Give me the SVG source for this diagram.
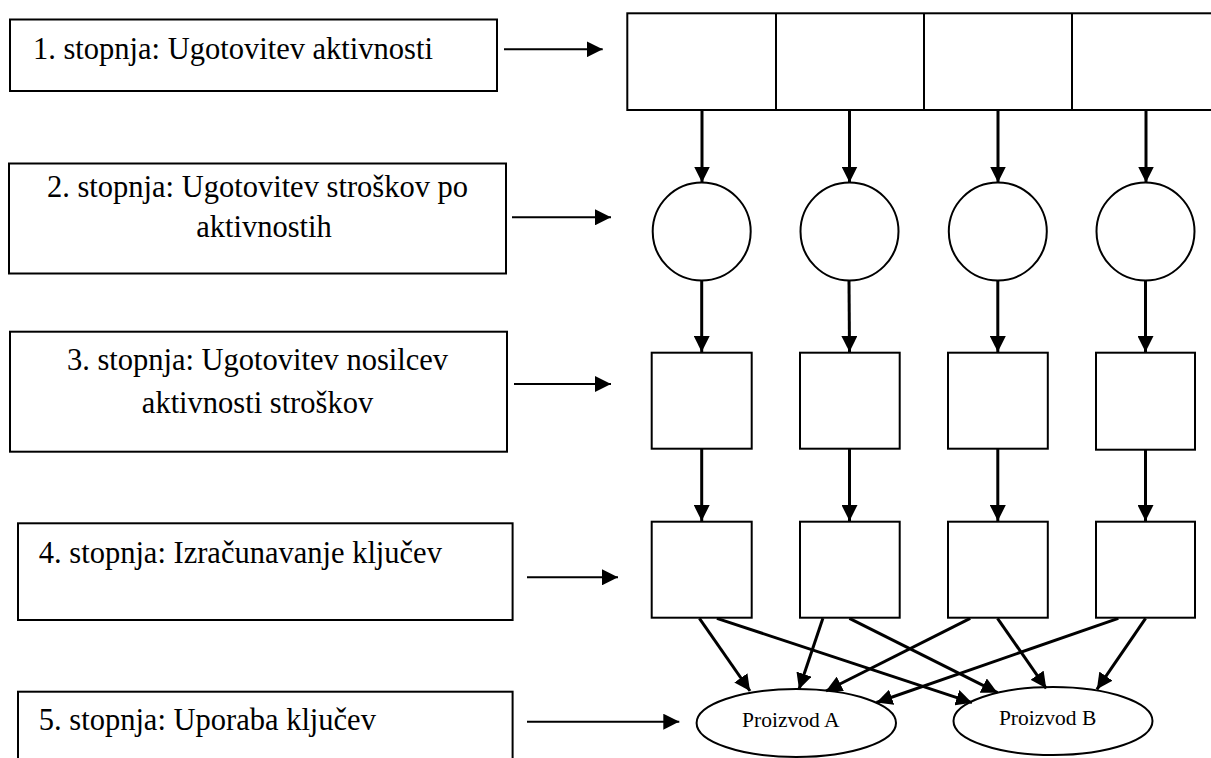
<svg xmlns="http://www.w3.org/2000/svg" width="1211" height="758" viewBox="0 0 1211 758">
  <style>
    .stage { fill: #fff; stroke: #000; stroke-width: 2; }
    .cell { fill: #fff; stroke: #000; stroke-width: 2; }
    .label { font-family: "Liberation Serif", "Times New Roman", serif; font-size: 30.5px; fill: #000; }
    .prod { font-family: "Liberation Serif", "Times New Roman", serif; font-size: 21.5px; fill: #000; }
    .flow { stroke: #000; stroke-width: 3; fill: none; marker-end: url(#head); }
    .step { stroke: #000; stroke-width: 2; fill: none; marker-end: url(#head); }
  </style>
  <defs>
    <marker id="head" viewBox="0 0 16 16" refX="16" refY="8" markerWidth="16" markerHeight="16" markerUnits="userSpaceOnUse" orient="auto">
      <path d="M0,0 L16,8 L0,16 z" fill="#000"/>
    </marker>
  </defs>
  <rect width="1211" height="758" fill="#fff"/>

  <!-- stage descriptions on the left -->
  <g id="stage1">
    <rect class="stage" x="10" y="19.5" width="487" height="71.5"/>
    <text class="label" x="33" y="59">1. stopnja: Ugotovitev aktivnosti</text>
  </g>
  <g id="stage2">
    <rect class="stage" x="9" y="163.5" width="497" height="110"/>
    <text class="label" x="257.5" y="196.7" text-anchor="middle">2. stopnja: Ugotovitev stroškov po</text>
    <text class="label" x="264" y="237" text-anchor="middle">aktivnostih</text>
  </g>
  <g id="stage3">
    <rect class="stage" x="10" y="331.7" width="497" height="120"/>
    <text class="label" x="257.5" y="370" text-anchor="middle">3. stopnja: Ugotovitev nosilcev</text>
    <text class="label" x="257.5" y="412.7" text-anchor="middle">aktivnosti stroškov</text>
  </g>
  <g id="stage4">
    <rect class="stage" x="18" y="523.3" width="494.6" height="96.7"/>
    <text class="label" x="38.8" y="563.3">4. stopnja: Izračunavanje ključev</text>
  </g>
  <g id="stage5">
    <rect class="stage" x="18" y="691.7" width="494.6" height="80"/>
    <text class="label" x="38.8" y="730">5. stopnja: Uporaba ključev</text>
  </g>

  <!-- level 1: activity strip -->
  <g id="activities">
    <rect class="cell" x="627.3" y="13.3" width="600" height="96.7"/>
    <line x1="776" y1="13.3" x2="776" y2="110" stroke="#000" stroke-width="2"/>
    <line x1="924" y1="13.3" x2="924" y2="110" stroke="#000" stroke-width="2"/>
    <line x1="1072" y1="13.3" x2="1072" y2="110" stroke="#000" stroke-width="2"/>
  </g>

  <!-- level 2: cost pools -->
  <g id="pools">
    <circle class="cell" cx="701.7" cy="231.5" r="49"/>
    <circle class="cell" cx="849.5" cy="231.5" r="49"/>
    <circle class="cell" cx="997.8" cy="231.5" r="49"/>
    <circle class="cell" cx="1145.5" cy="231.5" r="49"/>
  </g>

  <!-- level 3: cost drivers -->
  <g id="drivers">
    <rect class="cell" x="651.7" y="352.7" width="100" height="96"/>
    <rect class="cell" x="800" y="352.7" width="99.7" height="96"/>
    <rect class="cell" x="948" y="352.7" width="99.8" height="96"/>
    <rect class="cell" x="1096" y="352.7" width="99" height="97"/>
  </g>

  <!-- level 4: rates -->
  <g id="rates">
    <rect class="cell" x="651.7" y="521.7" width="100" height="96"/>
    <rect class="cell" x="800" y="521.7" width="99.7" height="96"/>
    <rect class="cell" x="948" y="521.7" width="99.8" height="96"/>
    <rect class="cell" x="1096" y="521.7" width="99" height="96"/>
  </g>

  <!-- level 5: products -->
  <g id="productA">
    <ellipse class="cell" cx="796.3" cy="723" rx="99.7" ry="34"/>
    <text class="prod" x="790.8" y="726.7" text-anchor="middle">Proizvod A</text>
  </g>
  <g id="productB">
    <ellipse class="cell" cx="1053" cy="721" rx="99.5" ry="34"/>
    <text class="prod" x="1047.6" y="724.5" text-anchor="middle">Proizvod B</text>
  </g>

  <g id="connectors">
    <!-- stage pointers -->
    <line class="step" x1="504" y1="49.3" x2="602.7" y2="49.3"/>
    <line class="step" x1="512" y1="217.3" x2="611" y2="217.3"/>
    <line class="step" x1="514" y1="384" x2="611" y2="384"/>
    <line class="step" x1="527" y1="577.3" x2="618" y2="577.3"/>
    <line class="step" x1="527" y1="721.7" x2="679.3" y2="721.7"/>

    <!-- activities to pools -->
    <line class="flow" x1="702" y1="110" x2="702" y2="182.5"/>
    <line class="flow" x1="849.5" y1="110" x2="849.5" y2="182.5"/>
    <line class="flow" x1="998" y1="110" x2="998" y2="182.5"/>
    <line class="flow" x1="1146" y1="110" x2="1146" y2="182.5"/>

    <!-- pools to drivers -->
    <line class="flow" x1="701.7" y1="280.5" x2="701.7" y2="352"/>
    <line class="flow" x1="849" y1="280.5" x2="849.5" y2="352"/>
    <line class="flow" x1="997.8" y1="280.5" x2="997.8" y2="352"/>
    <line class="flow" x1="1145.5" y1="280.5" x2="1145.5" y2="352"/>

    <!-- drivers to rates -->
    <line class="flow" x1="701.7" y1="449" x2="701.7" y2="521"/>
    <line class="flow" x1="849.5" y1="449" x2="849.5" y2="521"/>
    <line class="flow" x1="997.8" y1="449" x2="997.8" y2="521"/>
    <line class="flow" x1="1145.5" y1="450" x2="1145.5" y2="521"/>

    <!-- rates to products -->
    <line class="flow" x1="699.4" y1="618.3" x2="750" y2="691"/>
    <line class="flow" x1="716.9" y1="618.3" x2="972" y2="702.7"/>
    <line class="flow" x1="822.9" y1="618.3" x2="799" y2="689.3"/>
    <line class="flow" x1="849.4" y1="618.3" x2="997.5" y2="692.7"/>
    <line class="flow" x1="970.2" y1="618.3" x2="826" y2="691"/>
    <line class="flow" x1="997.5" y1="618.3" x2="1046.2" y2="688.3"/>
    <line class="flow" x1="1118.3" y1="618.3" x2="876.5" y2="702.5"/>
    <line class="flow" x1="1145.6" y1="618.3" x2="1096.9" y2="689.3"/>
  </g>
</svg>
